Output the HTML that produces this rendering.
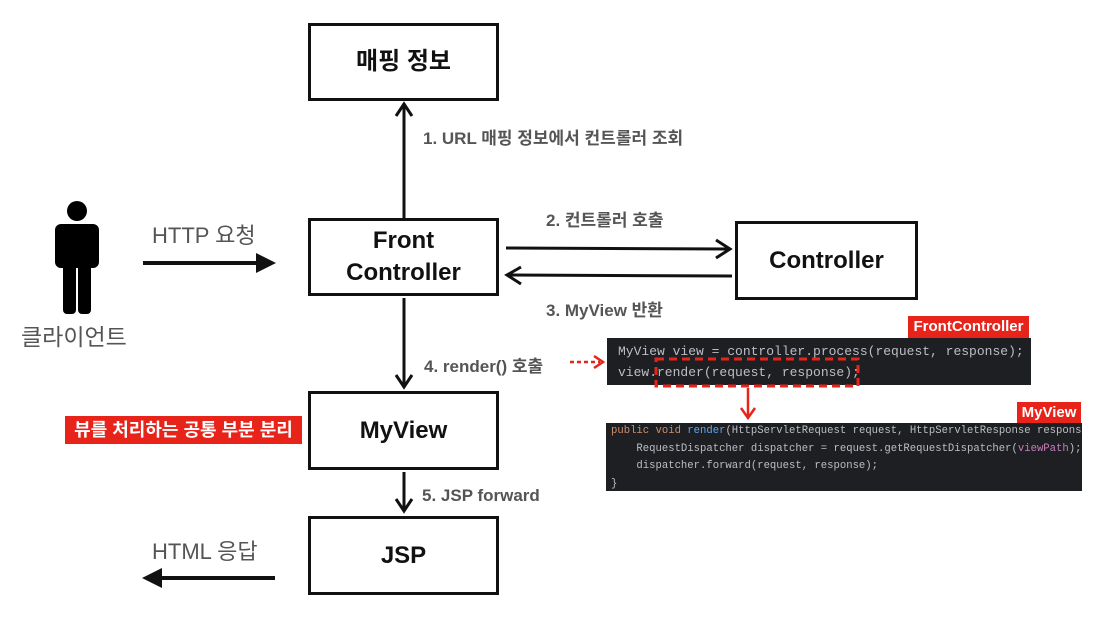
<!DOCTYPE html>
<html><head><meta charset="utf-8"><style>
body{margin:0;width:1105px;height:624px;background:#fff;position:relative;overflow:hidden;font-family:"Liberation Sans","Noto Sans CJK KR",sans-serif}
.b{position:absolute;border:3px solid #111;box-sizing:border-box;display:flex;align-items:center;justify-content:center;text-align:center;font-weight:bold;font-size:24px;color:#111;line-height:32px}
.t{position:absolute;white-space:nowrap;color:#555;font-weight:bold;font-size:17px}
.g{position:absolute;white-space:nowrap;color:#555;font-size:22px}
.r{position:absolute;background:#e8231a;color:#fff;font-weight:bold;white-space:nowrap}
.code{position:absolute;background:#1e1f22;font-family:"Liberation Mono",monospace;color:#bcbec4;white-space:pre;overflow:hidden}
</style></head><body>
<div class="b" style="left:308px;top:23px;width:191px;height:78px">매핑 정보</div>
<div class="b" style="left:308px;top:218px;width:191px;height:78px">Front<br>Controller</div>
<div class="b" style="left:735px;top:221px;width:183px;height:79px">Controller</div>
<div class="b" style="left:308px;top:391px;width:191px;height:79px">MyView</div>
<div class="b" style="left:308px;top:516px;width:191px;height:79px">JSP</div>

<div class="g" style="left:152px;top:218px">HTTP 요청</div>
<div class="g" style="left:21px;top:318px;font-size:23px">클라이언트</div>
<div class="g" style="left:152px;top:534px">HTML 응답</div>
<div class="t" style="left:423px;top:124px">1. URL 매핑 정보에서 컨트롤러 조회</div>
<div class="t" style="left:546px;top:206px">2. 컨트롤러 호출</div>
<div class="t" style="left:546px;top:296px">3. MyView 반환</div>
<div class="t" style="left:424px;top:352px">4. render() 호출</div>
<div class="t" style="left:422px;top:486px">5. JSP forward</div>

<div class="r" style="left:65px;top:416px;width:237px;height:28px;font-size:18px;line-height:28px;text-align:center">뷰를 처리하는 공통 부분 분리</div>
<div class="r" style="left:908px;top:316px;width:121px;height:22px;font-size:15px;line-height:22px;text-align:center">FrontController</div>
<div class="r" style="left:1017px;top:402px;width:64px;height:21px;font-size:15px;line-height:21px;text-align:center">MyView</div>

<div class="code" style="left:607px;top:338px;width:424px;height:47px;font-size:13px;line-height:21px;padding:3px 0 0 11px;box-sizing:border-box">MyView view = controller.process(request, response);
view.render(request, response);</div>
<div class="code" style="left:606px;top:423px;width:476px;height:68px;font-size:10.6px;line-height:17.5px;padding:0 0 0 5px;box-sizing:border-box"><span style="color:#cf8e6d">public void</span> <span style="color:#56a8f5">render</span>(HttpServletRequest request, HttpServletResponse response)
    RequestDispatcher dispatcher = request.getRequestDispatcher(<span style="color:#c77dbb">viewPath</span>);
    dispatcher.forward(request, response);
}</div>

<svg style="position:absolute;left:0;top:0" width="1105" height="624">
<g stroke="#111" stroke-width="3" fill="none">
<line x1="404" y1="218" x2="404" y2="106"/><polyline points="396,116 404,104 412,116"/>
<line x1="506" y1="248" x2="728" y2="249"/><polyline points="716,240 730,249 716,258"/>
<line x1="732" y1="276" x2="509" y2="275"/><polyline points="521,267 507,275 521,284"/>
<line x1="404" y1="298" x2="404" y2="386"/><polyline points="396,375 404,387 412,375"/>
<line x1="404" y1="472" x2="404" y2="510"/><polyline points="396,499 404,511 412,499"/>
</g>
<line x1="143" y1="263" x2="258" y2="263" stroke="#111" stroke-width="4"/>
<polygon points="256,253 276,263 256,273" fill="#111"/>
<line x1="160" y1="578" x2="275" y2="578" stroke="#111" stroke-width="4"/>
<polygon points="162,568 142,578 162,588" fill="#111"/>
<g fill="#000">
<circle cx="77" cy="211" r="10"/>
<rect x="55" y="224" width="44" height="44" rx="6"/>
<rect x="63" y="240" width="13" height="74" rx="4"/>
<rect x="78" y="240" width="13" height="74" rx="4"/>
</g>
<g stroke="#e8231a" stroke-width="2.5" fill="none">
<line x1="570" y1="362" x2="600" y2="362" stroke-dasharray="4,3"/><polyline points="594,356 603,362 594,368"/>
<rect x="656" y="359" width="202" height="27" stroke-dasharray="8,5" stroke-width="3"/>
<line x1="748" y1="388" x2="748" y2="416"/><polyline points="741,408 748,418 755,408"/>
</g>
</svg>
</body></html>
